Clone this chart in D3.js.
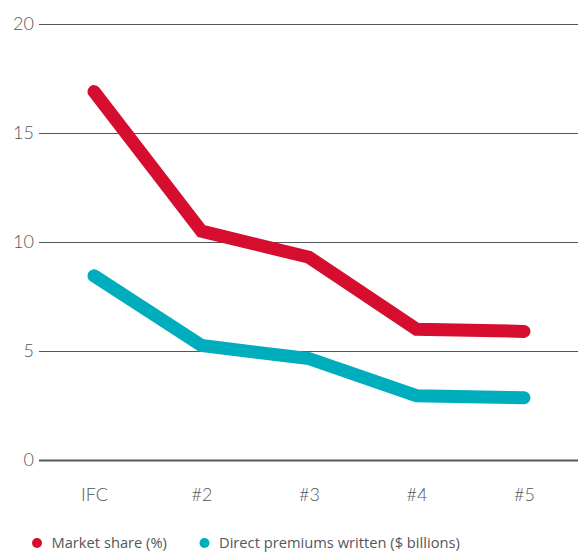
<!DOCTYPE html>
<html>
<head>
<meta charset="utf-8">
<script src="https://cdn.jsdelivr.net/npm/d3@7"></script>
<style>
  body { margin: 0; background: #fff; }
  svg { display: block; }
  text { font-family: Lato, "Open Sans", "Noto Sans", sans-serif; }
  .legend text { font-family: "Open Sans", Lato, sans-serif; font-weight: 400; }
</style>
</head>
<body>
<svg id="chart" width="586" height="552"></svg>
<script>
// Top five insurers by direct premiums written
const companies = ["IFC", "#2", "#3", "#4", "#5"];
const marketShare = [16.9, 10.5, 9.3, 6.0, 5.9];        // %
const directPremiums = [8.45, 5.25, 4.65, 2.95, 2.85];  // $ billions
const yTicks = [0, 5, 10, 15, 20];
const seriesNames = ["Market share (%)", "Direct premiums written ($ billions)"];
const seriesColors = ["#d50e30", "#00adbd"];

const svg = d3.select("#chart");
const gridLeft = 39, gridRight = 578;

const x = d3.scalePoint().domain(companies).range([94, 524]);
const y = d3.scaleLinear().domain([0, 20]).range([460, 24]);

// Horizontal gridlines with value labels
const yAxis = svg.append("g")
  .attr("transform", `translate(${gridLeft},0)`)
  .call(d3.axisLeft(y).tickValues(yTicks).tickSize(-(gridRight - gridLeft)).tickPadding(5));
yAxis.select(".domain").remove();
yAxis.selectAll(".tick line")
  .attr("stroke", "#55565a")
  .attr("stroke-width", d => d === 0 ? 2.2 : 1.2);
yAxis.selectAll(".tick text")
  .attr("fill", "#55565a")
  .attr("font-size", 18)
  .attr("font-weight", 300)
  .attr("dy", "0.32em");

// Company labels
const xAxis = svg.append("g")
  .attr("transform", `translate(0,${y(0)})`)
  .call(d3.axisBottom(x).tickSize(0).tickPadding(0));
xAxis.select(".domain").remove();
xAxis.selectAll(".tick text")
  .attr("fill", "#55565a")
  .attr("font-size", 18)
  .attr("font-weight", 300)
  .attr("y", 41)
  .attr("dy", 0);

// Series lines
const series = [marketShare, directPremiums];
const line = d3.line()
  .x((d, i) => x(companies[i]))
  .y(d => y(d));

svg.selectAll("path.series")
  .data(series)
  .join("path")
  .attr("class", "series")
  .attr("d", line)
  .attr("fill", "none")
  .attr("stroke", (d, i) => seriesColors[i])
  .attr("stroke-width", 13)
  .attr("stroke-linecap", "round")
  .attr("stroke-linejoin", "miter");

// Legend
const legendX = [37, 204.5];
const legend = svg.append("g")
  .attr("class", "legend")
  .selectAll("g")
  .data(seriesNames)
  .join("g")
  .attr("transform", (d, i) => `translate(${legendX[i]},543)`);
legend.append("circle")
  .attr("r", 5)
  .attr("fill", (d, i) => seriesColors[i]);
legend.append("text")
  .attr("x", 14.5)
  .attr("y", 5)
  .attr("fill", "#55565a")
  .attr("font-size", 14.7)
  .text(d => d);
</script>
</body>
</html>
